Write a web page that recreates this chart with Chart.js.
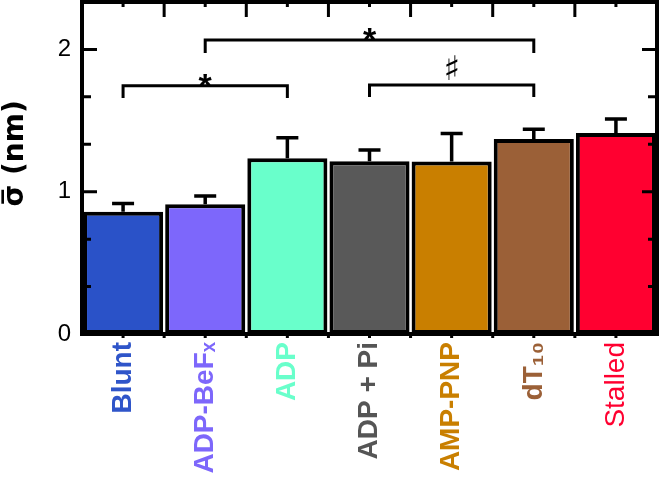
<!DOCTYPE html>
<html><head><meta charset="utf-8">
<script src="https://cdn.jsdelivr.net/npm/chart.js@4"></script>
<style>html,body{margin:0;padding:0;background:#fff}</style>
</head><body>
<canvas id="c" width="660" height="484" style="width:660px;height:484px;display:block"></canvas>
<script>
const categories = ['Blunt', 'ADP-BeFₓ', 'ADP', 'ADP + Pi', 'AMP-PNP', 'dT₁₀', 'Stalled'];
const sigmaValues = [0.860, 0.912, 1.235, 1.214, 1.212, 1.371, 1.413];
const sigmaErrors = [0.058, 0.058, 0.145, 0.079, 0.198, 0.068, 0.098];
const barColors = ['#2A52C8', '#7D67FB', '#69FFCB', '#595959', '#C97F00', '#9B6037', '#FF0030'];
const labelColors = ['#2F55C9', '#7D67FB', '#69FFCB', '#555555', '#C97F00', '#9B6037', '#FF0030'];
const labelBold = [true, true, true, true, true, true, false];
const yTickLabels = [0, 1, 2];
const yMinorTicks = [1/3, 2/3, 4/3, 5/3, 7/3];
const yMax = 7/3;
const bracketFrom = [0, 1, 3];
const bracketTo = [2, 5, 5];
const bracketY = [1.745, 2.066, 1.75];
const bracketDrop = [0.087, 0.091, 0.085];
const bracketMarks = ['*', '*', '♯'];

const FAM = '"Liberation Sans", Arial, Helvetica, sans-serif';

const decor = {
  id: 'decor',
  afterDatasetsDraw(chart) {
    const ctx = chart.ctx, a = chart.chartArea, x = chart.scales.x, y = chart.scales.y;
    ctx.save();
    ctx.strokeStyle = '#000';
    ctx.fillStyle = '#000';
    ctx.lineCap = 'butt';
    // error bars
    ctx.lineWidth = 3.5;
    sigmaValues.forEach((v, i) => {
      const px = x.getPixelForValue(i);
      const y0 = y.getPixelForValue(v);
      const y1 = y.getPixelForValue(v + sigmaErrors[i]);
      ctx.beginPath();
      ctx.moveTo(px, y0); ctx.lineTo(px, y1);
      ctx.moveTo(px - 11, y1); ctx.lineTo(px + 11, y1);
      ctx.stroke();
    });
    // y ticks (inward, both sides)
    ctx.lineWidth = 3;
    const yt = (v, len) => {
      const py = y.getPixelForValue(v);
      ctx.beginPath();
      ctx.moveTo(a.left, py); ctx.lineTo(a.left + len, py);
      ctx.moveTo(a.right, py); ctx.lineTo(a.right - len, py);
      ctx.stroke();
    };
    yTickLabels.forEach(v => yt(v, 15));
    yMinorTicks.forEach(v => yt(v, 9));
    // x ticks: top inward, bottom short outward
    for (let i = 0; i < categories.length; i++) {
      const pc = x.getPixelForValue(i);
      ctx.beginPath();
      ctx.moveTo(pc, a.top); ctx.lineTo(pc, a.top + 5);
      ctx.moveTo(pc, a.bottom); ctx.lineTo(pc, a.bottom + 4);
      if (i > 0) {
        const pb = x.getPixelForValue(i - 0.5);
        ctx.moveTo(pb, a.top); ctx.lineTo(pb, a.top + 15);
        ctx.moveTo(pb, a.bottom); ctx.lineTo(pb, a.bottom + 4);
      }
      ctx.stroke();
    }
    // frame
    ctx.lineWidth = 4;
    ctx.strokeRect(a.left, a.top, a.right - a.left, a.bottom - a.top);
    // significance brackets
    ctx.lineWidth = 3;
    bracketFrom.forEach((f, k) => {
      const x1 = x.getPixelForValue(f), x2 = x.getPixelForValue(bracketTo[k]);
      const py = y.getPixelForValue(bracketY[k]);
      const pd = y.getPixelForValue(bracketY[k] - bracketDrop[k]);
      ctx.beginPath();
      ctx.moveTo(x1, pd); ctx.lineTo(x1, py); ctx.lineTo(x2, py); ctx.lineTo(x2, pd);
      ctx.stroke();
      const mx = (x1 + x2) / 2;
      ctx.textAlign = 'center';
      if (bracketMarks[k] === '*') {
        ctx.font = 'bold 34px ' + FAM;
        ctx.textBaseline = 'alphabetic';
        ctx.fillText('*', mx, py + 11);
      } else {
        ctx.font = 'bold 34px "DejaVu Sans", sans-serif';
        ctx.textBaseline = 'middle';
        ctx.fillText(bracketMarks[k], mx, py - 14);
      }
    });
    ctx.restore();
  }
};

new Chart(document.getElementById('c'), {
  type: 'bar',
  data: {
    labels: categories,
    datasets: [{
      data: sigmaValues,
      backgroundColor: barColors,
      borderColor: '#000',
      borderWidth: 4,
      borderSkipped: false,
      barPercentage: 0.975,
      categoryPercentage: 1
    }]
  },
  options: {
    responsive: false,
    animation: false,
    devicePixelRatio: 1,
    layout: { padding: { top: 2, right: 3, left: 0, bottom: 0 } },
    plugins: { legend: { display: false }, tooltip: { enabled: false } },
    scales: {
      x: {
        grid: { display: false, drawTicks: false },
        border: { display: false },
        ticks: {
          autoSkip: false, maxRotation: 90, minRotation: 90, padding: 8,
          color: c => labelColors[c.index],
          font: c => ({ family: FAM, size: 28, weight: labelBold[c.index] ? 'bold' : 'normal' })
        },
        afterFit(s) { s.height = 150; s.paddingLeft = 0; s.paddingRight = 0; }
      },
      y: {
        min: 0, max: yMax,
        afterBuildTicks(s) { s.ticks = yTickLabels.map(v => ({ value: v })); },
        grid: { display: false, drawTicks: false },
        border: { display: false },
        ticks: { padding: 11, color: '#000', font: { family: FAM, size: 24 } },
        title: { display: true, text: '   σ\u0305 (nm)', color: '#000', padding: { top: -1, bottom: 0 },
                 font: { family: '"DejaVu Sans", sans-serif', size: 28, weight: 'bold' } },
        afterFit(s) { s.width = 82; s.paddingTop = 0; s.paddingBottom = 0; }
      }
    }
  },
  plugins: [decor]
});
</script>
</body></html>
